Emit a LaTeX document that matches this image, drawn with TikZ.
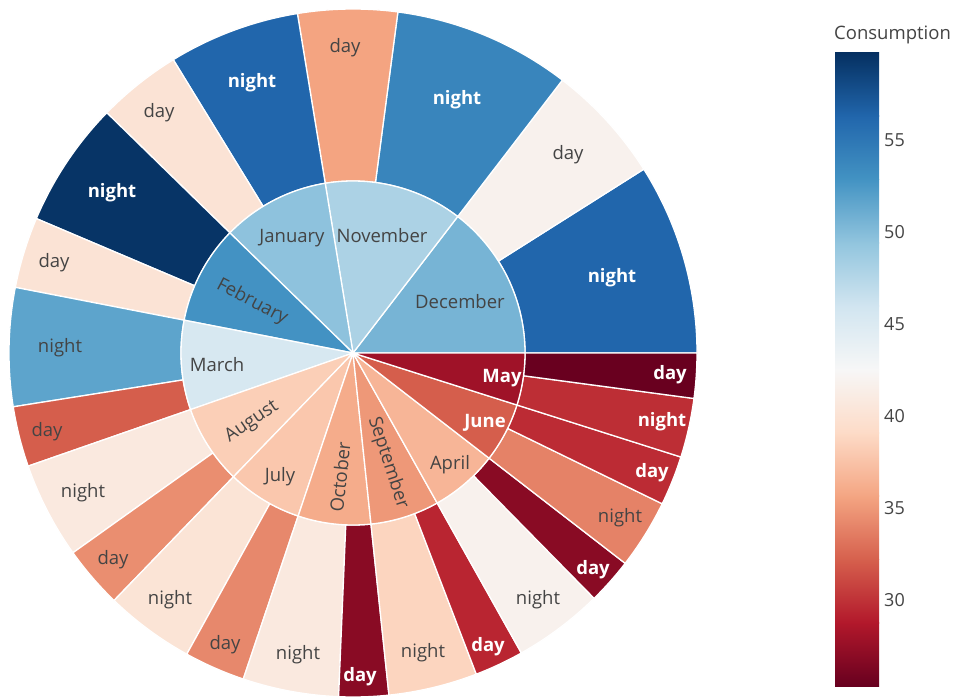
\documentclass[tikz,border=0pt]{standalone}
\usepackage{fontspec}
\setmainfont{Open Sans}
\definecolor{rb0}{RGB}{103,0,31}
\definecolor{rb1}{RGB}{178,24,43}
\definecolor{rb2}{RGB}{214,96,77}
\definecolor{rb3}{RGB}{244,165,130}
\definecolor{rb4}{RGB}{253,219,199}
\definecolor{rb5}{RGB}{247,247,247}
\definecolor{rb6}{RGB}{209,229,240}
\definecolor{rb7}{RGB}{146,197,222}
\definecolor{rb8}{RGB}{67,147,195}
\definecolor{rb9}{RGB}{33,102,172}
\definecolor{rb10}{RGB}{5,48,97}
\definecolor{txtgray}{RGB}{68,68,68}
\newcommand\valcol[2]{%
  \pgfmathsetmacro\rbT{max(0,min(9.999,(#2-25.33)/3.44))}%
  \pgfmathtruncatemacro\rbI{floor(\rbT)}%
  \pgfmathtruncatemacro\rbJ{\rbI+1}%
  \pgfmathsetmacro\rbF{(\rbT-\rbI)*100}%
  \colorlet{#1}{rb\rbJ!\rbF!rb\rbI}}
% values (colour scale)
\valcol{cDecN}{56.3}\valcol{cDecD}{41.8}\valcol{cDec}{50.6}
\valcol{cNovN}{53.9}\valcol{cNovD}{35.6}\valcol{cNov}{48.0}
\valcol{cJanN}{56.3}\valcol{cJanD}{40.1}\valcol{cJan}{49.6}
\valcol{cFebN}{59.5}\valcol{cFebD}{40.1}\valcol{cFeb}{52.9}
\valcol{cMarN}{51.7}\valcol{cMarD}{32.1}\valcol{cMar}{45.4}
\valcol{cAugN}{40.8}\valcol{cAugD}{34.5}\valcol{cAug}{38.3}
\valcol{cJulN}{40.2}\valcol{cJulD}{34.2}\valcol{cJul}{37.8}
\valcol{cOctN}{40.8}\valcol{cOctD}{26.9}\valcol{cOct}{36.1}
\valcol{cSepN}{38.7}\valcol{cSepD}{29.4}\valcol{cSep}{35.0}
\valcol{cAprN}{41.8}\valcol{cAprD}{26.9}\valcol{cApr}{36.7}
\valcol{cJunN}{33.9}\valcol{cJunD}{29.7}\valcol{cJun}{32.1}
\valcol{cMayN}{29.8}\valcol{cMayD}{25.4}\valcol{cMay}{27.9}
\newcommand\ringseg[3]{% a1 a2 colour
  \filldraw[sector,fill=#3] (#1:172) -- (#1:344) arc[start angle=#1,end angle=#2,radius=344]
    -- (#2:172) arc[start angle=#2,end angle=#1,radius=172] -- cycle;}
\newcommand\pieseg[3]{% a1 a2 colour
  \filldraw[sector,fill=#3] (0,0) -- (#1:172) arc[start angle=#1,end angle=#2,radius=172] -- cycle;}
\tikzset{
  sector/.style={draw=white,line width=1.3pt,line join=round},
  lbl/.style={font=\fontsize{18.5}{22}\selectfont,text=txtgray,inner sep=0pt},
  wlbl/.style={lbl,font=\fontsize{18.5}{22}\selectfont\bfseries,text=white},
  tick/.style={font=\fontsize{18}{22}\selectfont,text=txtgray,inner sep=0pt,anchor=west}
}
\begin{document}
\begin{tikzpicture}[x=1pt,y=1pt]
\useasboundingbox (0,0) rectangle (957,697);
\fill[white] (0,0) rectangle (957,697);
\begin{scope}[shift={(353,344)}]
% outer ring
\ringseg{0}{32.3}{cDecN}\ringseg{32.3}{52.5}{cDecD}
\ringseg{52.5}{82.5}{cNovN}\ringseg{82.5}{99.3}{cNovD}
\ringseg{99.3}{121.5}{cJanN}\ringseg{121.5}{135.7}{cJanD}
\ringseg{135.7}{157}{cFebN}\ringseg{157}{169}{cFebD}
\ringseg{169}{189}{cMarN}\ringseg{189}{199.2}{cMarD}
\ringseg{199.2}{215.5}{cAugN}\ringseg{215.5}{226}{cAugD}
\ringseg{226}{241.1}{cJulN}\ringseg{241.1}{251.4}{cJulD}
\ringseg{251.4}{267.6}{cOctN}\ringseg{267.6}{276}{cOctD}
\ringseg{276}{291}{cSepN}\ringseg{291}{299.3}{cSepD}
\ringseg{299.3}{314.5}{cAprN}\ringseg{314.5}{322.3}{cAprD}
\ringseg{322.3}{334}{cJunN}\ringseg{334}{342.4}{cJunD}
\ringseg{342.4}{352.4}{cMayN}\ringseg{352.4}{360}{cMayD}
% inner ring
\pieseg{0}{52.5}{cDec}
\pieseg{52.5}{99.3}{cNov}
\pieseg{99.3}{135.7}{cJan}
\pieseg{135.7}{169}{cFeb}
\pieseg{169}{199.2}{cMar}
\pieseg{199.2}{226}{cAug}
\pieseg{226}{251.4}{cJul}
\pieseg{251.4}{276}{cOct}
\pieseg{276}{299.3}{cSep}
\pieseg{299.3}{322.3}{cApr}
\pieseg{322.3}{342.4}{cJun}
\pieseg{342.4}{360}{cMay}
\end{scope}
% outer labels
\node[wlbl] (decN) at (612,419) {night};
\node[lbl]  (decD) at (568,542) {day};
\node[wlbl] (novN) at (457,597) {night};
\node[lbl]  (novD) at (345,649) {day};
\node[wlbl] (janN) at (252,614) {night};
\node[lbl]  (janD) at (159,584) {day};
\node[wlbl] (febN) at (112,504) {night};
\node[lbl]  (febD) at (54,434) {day};
\node[lbl]  (marN) at (60,349) {night};
\node[lbl]  (marD) at (47,265) {day};
\node[lbl]  (augN) at (83,204) {night};
\node[lbl]  (augD) at (113,137) {day};
\node[lbl]  (julN) at (170,97) {night};
\node[lbl]  (julD) at (225,52) {day};
\node[lbl]  (octN) at (298,42) {night};
\node[wlbl] (octD) at (360,20) {day};
\node[lbl]  (sepN) at (423,44) {night};
\node[wlbl] (sepD) at (488,50) {day};
\node[lbl]  (aprN) at (538,97) {night};
\node[wlbl] (aprD) at (593,127) {day};
\node[lbl]  (junN) at (620,179) {night};
\node[wlbl] (junD) at (652,224) {day};
\node[wlbl] (mayN) at (662,275) {night};
\node[wlbl] (mayD) at (670,322) {day};
% inner labels
\node[lbl] (dec) at (460,395) {December};
\node[lbl] (nov) at (382,461) {November};
\node[lbl] (jan) at (292,459) {January};
\node[lbl,rotate=-27.6] (feb) at (252,395) {February};
\node[lbl] (mar) at (217,332) {March};
\node[lbl,rotate=34] (aug) at (252,275) {August};
\node[lbl] (jul) at (280,220) {July};
\node[lbl,rotate=84] (oct) at (340,220) {October};
\node[lbl,rotate=-72] (sep) at (388,234) {September};
\node[lbl] (apr) at (450,232) {April};
\node[wlbl] (jun) at (485,274) {June};
\node[wlbl] (may) at (502,319) {May};
% colour bar
\foreach \i [evaluate=\i as \j using int(\i+1)] in {0,...,9}{
  \shade[bottom color=rb\i,top color=rb\j] (835,{11+63.3*\i-0.3}) rectangle (879,{11+63.3*(\i+1)+0.3});
}
\node[lbl,anchor=west] (cbtitle) at (834,662) {Consumption};
\node[tick] (t55) at (884,557) {55};
\node[tick] (t50) at (884,465) {50};
\node[tick] (t45) at (884,373) {45};
\node[tick] (t40) at (884,281) {40};
\node[tick] (t35) at (884,189) {35};
\node[tick] (t30) at (884,97) {30};
\end{tikzpicture}
\end{document}
